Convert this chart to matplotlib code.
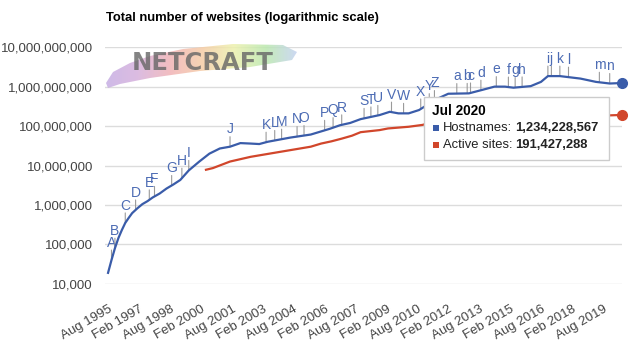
import matplotlib
matplotlib.use('Agg')
import matplotlib.pyplot as plt
import matplotlib.dates as mdates
import numpy as np
import pandas as pd
from matplotlib.patches import Rectangle, Polygon
from matplotlib.lines import Line2D
from matplotlib.colors import LinearSegmentedColormap
from matplotlib.ticker import FixedLocator, FuncFormatter, NullLocator

plt.rcParams['font.family'] = ['Liberation Sans', 'DejaVu Sans']

# data
host_months = ['1995-08', '1995-10', '1995-12', '1996-02', '1996-04', '1996-06', '1996-08',
               '1996-10', '1997-01', '1997-04', '1997-07', '1997-10', '1998-02', '1998-06',
               '1998-10', '1999-02', '1999-07', '2000-01', '2000-07', '2001-01', '2001-07',
               '2002-01', '2002-07', '2002-12', '2003-05', '2004-06', '2005-06', '2006-05',
               '2006-11', '2007-05', '2007-11', '2008-10', '2009-04', '2009-09', '2010-03',
               '2010-09', '2011-03', '2011-08', '2012-02', '2013-02', '2013-09', '2014-05',
               '2014-11', '2015-04', '2016-02', '2016-08', '2016-12', '2017-07', '2018-07',
               '2019-04', '2019-12', '2020-07']
host_values = [18957, 40e3, 80e3, 145e3, 230e3, 350e3, 470e3,
               620e3, 820e3, 1.05e6, 1.25e6, 1.55e6, 1.95e6, 2.6e6,
               3.3e6, 4.3e6, 7.5e6, 12.5e6, 20e6, 27e6, 30e6,
               37e6, 36e6, 35e6, 40e6, 51e6, 61e6, 85e6,
               105e6, 120e6, 150e6, 190e6, 230e6, 210e6, 210e6,
               255e6, 370e6, 500e6, 660e6, 675e6, 810e6, 1.0e9,
               1.0e9, 940e6, 1.03e9, 1.32e9, 1.85e9, 1.85e9, 1.6e9,
               1.32e9, 1.2e9, 1234228567]

active_months = ['2000-05', '2000-09', '2001-07', '2002-07', '2003-06', '2004-06', '2005-06',
                 '2005-12', '2006-06', '2006-12', '2007-06', '2007-11', '2008-10', '2009-03',
                 '2010-03', '2010-11', '2011-06', '2012-06', '2013-06', '2014-06', '2015-06',
                 '2016-06', '2017-06', '2018-06', '2019-06', '2020-07']
active_values = [7.8e6, 8.6e6, 12.6e6, 16.6e6, 20e6, 24.5e6, 30e6,
                 36e6, 41e6, 48e6, 57e6, 70e6, 79e6, 87e6,
                 96e6, 107e6, 130e6, 180e6, 182e6, 178e6, 175e6,
                 172e6, 172e6, 176e6, 183e6, 191427288]

event_letters = list('ABCDEFGHIJKLMNOPQRSTUVWXYZabcdefghijklmn')
event_months = ['1995-10', '1995-12', '1996-06', '1996-12', '1997-08', '1997-11', '1998-09',
                '1999-03', '1999-07', '2001-07', '2003-04', '2003-09', '2004-01', '2004-10',
                '2005-02', '2006-02', '2006-07', '2006-12', '2008-01', '2008-05', '2008-09',
                '2009-05', '2009-12', '2010-10', '2011-03', '2011-06', '2012-07', '2013-01',
                '2013-03', '2013-09', '2014-06', '2015-01', '2015-05', '2015-09', '2016-12',
                '2017-02', '2017-07', '2017-12', '2019-06', '2019-12']

tick_months = ['1995-08', '1997-02', '1998-08', '2000-02', '2001-08', '2003-02', '2004-08',
               '2006-02', '2007-08', '2009-02', '2010-08', '2012-02', '2013-08', '2015-02',
               '2016-08', '2018-02', '2019-08']
ytick_values = [1e4, 1e5, 1e6, 1e7, 1e8, 1e9, 1e10]

series_names = ['Hostnames', 'Active sites']
title = 'Total number of websites (logarithmic scale)'

BLUE = '#3a5ca9'
RED = '#d1462b'
LETTER = '#4d6cb4'

W, H = 640, 360
fig = plt.figure(figsize=(6.4, 3.6), dpi=100)
fig.patch.set_facecolor('white')


def fx(x):
    return x / W


def fy(y):
    return 1 - y / H


ax = fig.add_axes([fx(105), fy(284), fx(622) - fx(105), fy(47) - fy(284)])

host_dates = pd.to_datetime(host_months)
active_dates = pd.to_datetime(active_months)
tick_dates = pd.to_datetime(tick_months)

ax.plot(host_dates, host_values, color=BLUE, lw=1.6, solid_joinstyle='round', zorder=3)
ax.plot(active_dates, active_values, color=RED, lw=1.6, solid_joinstyle='round', zorder=3)
ax.plot(host_dates[-1:], host_values[-1:], 'o', ms=7, color=BLUE, clip_on=False, zorder=4)
ax.plot(active_dates[-1:], active_values[-1:], 'o', ms=7, color=RED, clip_on=False, zorder=4)

ax.set_yscale('log')
ax.set_ylim(10 ** 3.995, 10 ** 10.005)
ax.set_xlim(pd.Timestamp('1995-06-08'), pd.Timestamp('2020-07-06'))
ax.yaxis.set_major_locator(FixedLocator(ytick_values))
ax.yaxis.set_minor_locator(NullLocator())
ax.yaxis.set_major_formatter(FuncFormatter(lambda v, p: f'{v:,.0f}'))
ax.grid(axis='y', color='#dcdcdc', lw=1)
ax.set_axisbelow(True)
for s in ax.spines.values():
    s.set_visible(False)
ax.tick_params(length=0, labelsize=9.5, labelcolor='#444444')
ax.tick_params(axis='y', pad=8.6)
ax.tick_params(axis='x', pad=14)
ax.set_xticks(tick_dates)
ax.set_xticklabels([d.strftime('%b %Y') for d in tick_dates], rotation=30,
                   ha='right', va='top', rotation_mode='anchor')

# lettered event markers on the hostnames line
host_num = mdates.date2num(host_dates)
log_host = np.log10(host_values)
for letter, month in zip(event_letters, event_months):
    d = pd.Timestamp(month)
    v = 10 ** np.interp(mdates.date2num(d), host_num, log_host)
    ax.annotate('', xy=(d, v), xytext=(0, 7.2), textcoords='offset points',
                arrowprops=dict(arrowstyle='-', color='#9a9a9a', lw=0.8,
                                shrinkA=0, shrinkB=0), zorder=2)
    ax.annotate(letter, xy=(d, v), xytext=(0, 9.5), textcoords='offset points',
                ha='center', va='baseline', fontsize=10, color=LETTER, zorder=2)

fig.text(fx(106), fy(18), title, fontweight='bold', fontsize=9.4, va='center')

# cut-off legend at the right edge
fig.legend(handles=[Line2D([], [], color=BLUE, lw=2), Line2D([], [], color=RED, lw=2)],
           labels=series_names, loc='upper left', bbox_to_anchor=(fx(631), fy(42)),
           frameon=False, handlelength=1.5, fontsize=9.5, labelspacing=0.6)

# netcraft logo
lax = fig.add_axes([fx(100), fy(92), fx(300) - fx(100), fy(40) - fy(92)])
lax.set_xlim(100, 300)
lax.set_ylim(92, 40)
lax.axis('off')
rainbow = LinearSegmentedColormap.from_list(
    'brush', ['#c6aee4', '#d6b0dc', '#f0b2b6', '#f6cca6', '#edf1ae', '#bbe8ae', '#c4d2f2'])
grad = np.linspace(0, 1, 256).reshape(1, -1)
im = lax.imshow(grad, extent=(106, 298, 92, 40), cmap=rainbow, aspect='auto', alpha=0.85)
brush = Polygon([(106, 83), (113, 72), (130, 63), (150, 56), (183, 49), (233, 44), (283, 45),
                 (297, 52), (292, 60), (250, 67), (200, 71), (150, 78), (120, 84), (108, 88)],
                closed=True, transform=lax.transData)
im.set_clip_path(brush)
lax.text(132, 70, 'NETCRAFT', fontsize=17.5, fontweight='bold', color='#666666',
         family='DejaVu Sans', va='baseline', ha='left', alpha=0.8)

# tooltip for the last point
fig.patches.append(Rectangle((fx(425), fy(161)), fx(610) - fx(425), fy(97) - fy(161),
                             transform=fig.transFigure, facecolor='#bbbbbb', alpha=0.35,
                             edgecolor='none', zorder=5))
fig.patches.append(Rectangle((fx(424), fy(160)), fx(609) - fx(424), fy(97) - fy(160),
                             transform=fig.transFigure, facecolor='white',
                             edgecolor='#cccccc', lw=1, zorder=6))
fig.text(fx(432), fy(111), host_dates[-1].strftime('%b %Y'), fontweight='bold',
         fontsize=9.8, va='center', zorder=7)
renderer = fig.canvas.get_renderer()
rows = [(series_names[0], host_values[-1], BLUE, 128), (series_names[1], active_values[-1], RED, 145)]
for name, val, col, y in rows:
    fig.patches.append(Rectangle((fx(433), fy(y + 3)), fx(6), 6 / H, transform=fig.transFigure,
                                 facecolor=col, edgecolor='none', zorder=7))
    t = fig.text(fx(443), fy(y), name + ':', fontsize=9.4, va='center', color='#222222', zorder=7)
    bb = t.get_window_extent(renderer)
    fig.text(bb.x1 / W + fx(3), fy(y), f'{int(val):,}', fontsize=9.4, fontweight='bold',
             va='center', color='#222222', zorder=7)

fig.savefig('out.png', dpi=100)
